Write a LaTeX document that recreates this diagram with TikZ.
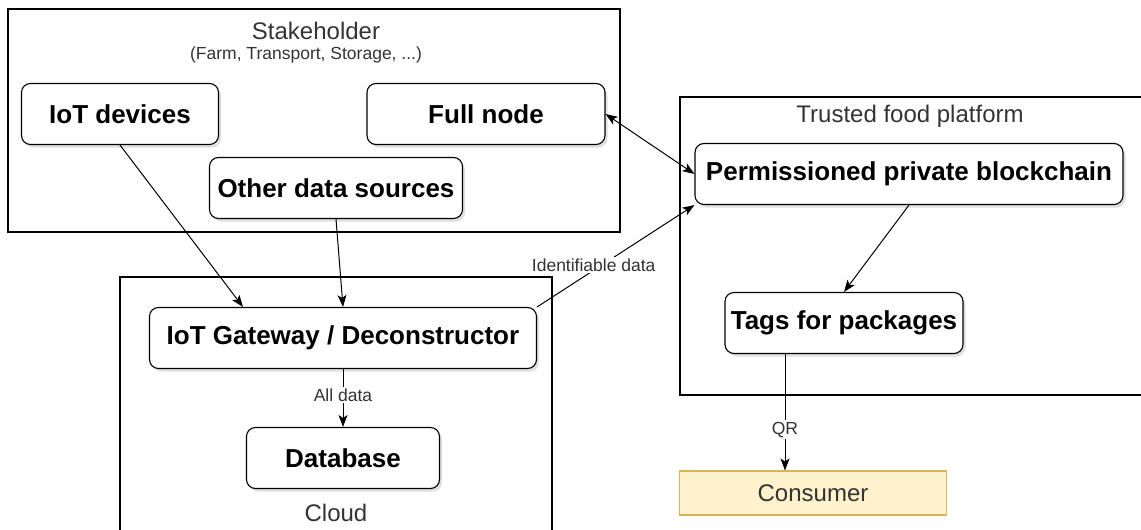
\documentclass[tikz,border=0pt]{standalone}
\usepackage{fontspec}
\setmainfont{Liberation Sans}
\usetikzlibrary{positioning,shadows,arrows.meta}

\definecolor{consfill}{HTML}{FFF2CC}
\definecolor{consline}{HTML}{D6B656}
\definecolor{softtext}{HTML}{333333}

\tikzset{
    block/.style={draw, rounded corners=9pt, fill=white, line width=1.1pt,
        minimum height=61pt, inner sep=3pt,
        font=\fontsize{26}{28}\selectfont\bfseries,
        drop shadow={opacity=0.25, shadow xshift=2.5pt, shadow yshift=-3pt}},
    group/.style={draw, line width=1.1pt},
    title/.style={text=softtext, font=\fontsize{24}{26}\selectfont, inner sep=0pt},
    subtitle/.style={text=softtext, font=\fontsize{17.5}{19}\selectfont, inner sep=0pt},
    lbl/.style={fill=white, text=softtext, font=\fontsize{17.5}{19}\selectfont, inner sep=1.5pt},
    consumer/.style={draw=consline, fill=consfill, line width=1.1pt, text=softtext,
        minimum width=267pt, minimum height=44pt, font=\fontsize{24}{26}\selectfont},
    flow/.style={-{Stealth[length=12pt,width=9pt,inset=3pt]}, line width=1pt},
    biflow/.style={{Stealth[length=12pt,width=9pt,inset=3pt]}-{Stealth[length=12pt,width=9pt,inset=3pt]}, line width=1pt}
}

\begin{document}
\begin{tikzpicture}[x=1pt,y=-1pt,on grid]
    \useasboundingbox (0,0) rectangle (1141,530);

    % containers
    \draw[group] (8,9) rectangle (620,232);
    \draw[group] (120,277) rectangle (552,545);
    \draw[group] (680,97) rectangle (1150,395);
    \node[title] (stakeT) at (316,31) {Stakeholder};
    \node[subtitle] (stakeS) at (306,55) {(Farm, Transport, Storage, ...)};
    \node[title] (trustT) at (910,116) {Trusted food platform};
    \node[title] (cloudT) at (336,513) {Cloud};

    % components
    \node[block, minimum width=197pt] (iot) at (120,114) {IoT devices};
    \node[block, minimum width=238pt] (full) at (486,114) {Full node};
    \node[block, minimum width=253pt] (other) at (336,188) {Other data sources};
    \node[block, minimum width=387pt] (gw) at (343,338) {IoT Gateway / Deconstructor};
    \node[block, minimum width=193pt] (db) [below=120pt of gw] {Database};
    \node[block, minimum width=428pt] (chain) at (909,174) {Permissioned private blockchain};
    \node[block, minimum width=238pt] (tags) at (844,323) {Tags for packages};
    \node[consumer] (cons) at (813,493) {Consumer};

    % data flow
    \path[flow]
    (iot.south) edge ([xshift=-100pt]gw.north)
    (other.south) edge (gw.north)
    (gw.north east) edge node[lbl, pos=0.36, yshift=5pt] {Identifiable data} (chain.south west)
    (gw) edge node[lbl, pos=0.45] {All data} (db)
    (chain.south) edge (tags.north)
    ([xshift=-59pt]tags.south) edge node[lbl, pos=0.65] {QR} ([xshift=-59pt]tags.south |- cons.north);
    \path[biflow] (full.east) edge (chain.west);

\end{tikzpicture}
\end{document}
